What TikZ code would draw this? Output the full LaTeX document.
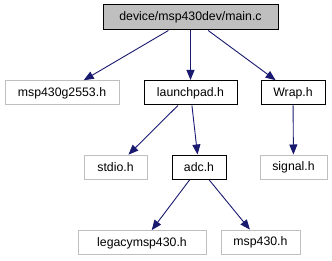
\documentclass[tikz,border=0pt]{standalone}
\usepackage{fontspec}
\setmainfont{Liberation Sans}
\usetikzlibrary{arrows.meta}
\definecolor{edgeblue}{HTML}{191970}
\definecolor{boxgray}{HTML}{BFBFBF}
\tikzset{
  file/.style={draw=black, line width=1pt, minimum height=24pt, inner sep=0pt,
    font=\fontsize{12.3}{14}\selectfont},
  extfile/.style={file, draw=boxgray},
  rootfile/.style={file, fill=boxgray},
  dep/.style={draw=edgeblue, line width=0.9pt,
    -{Triangle[length=10pt,width=8pt]}, shorten >=0.5pt},
}
\begin{document}
\begin{tikzpicture}[x=1pt, y=-1pt]
  \useasboundingbox (0,0) rectangle (332,261);
  % nodes
  \node[rootfile, minimum width=175pt, minimum height=25pt] (main) at (190.5,17.5) {device/msp430dev/main.c};
  \node[extfile, minimum width=114pt] (g2553) at (62,93) {msp430g2553.h};
  \node[file, minimum width=93pt] (launchpad) at (190.5,93) {launchpad.h};
  \node[file, minimum width=64pt] (wrap) at (293,93) {Wrap.h};
  \node[extfile, minimum width=63pt] (stdio) at (115.5,167.5) {stdio.h};
  \node[file, minimum width=54pt] (adc) at (199,167.5) {adc.h};
  \node[extfile, minimum width=67pt] (signal) at (293.5,167.5) {signal.h};
  \node[extfile, minimum width=128pt] (legacy) at (142,243) {legacymsp430.h};
  \node[extfile, minimum width=79pt] (msp430) at (260.5,242.5) {msp430.h};
  % include dependencies
  \draw[dep] (main) -- (g2553);
  \draw[dep] (main) -- (launchpad);
  \draw[dep] (main) -- (wrap);
  \draw[dep] (launchpad) -- (stdio);
  \draw[dep] (launchpad) -- (adc);
  \draw[dep] (wrap) -- (signal);
  \draw[dep] (adc) -- (legacy);
  \draw[dep] (adc) -- (msp430);
\end{tikzpicture}
\end{document}
